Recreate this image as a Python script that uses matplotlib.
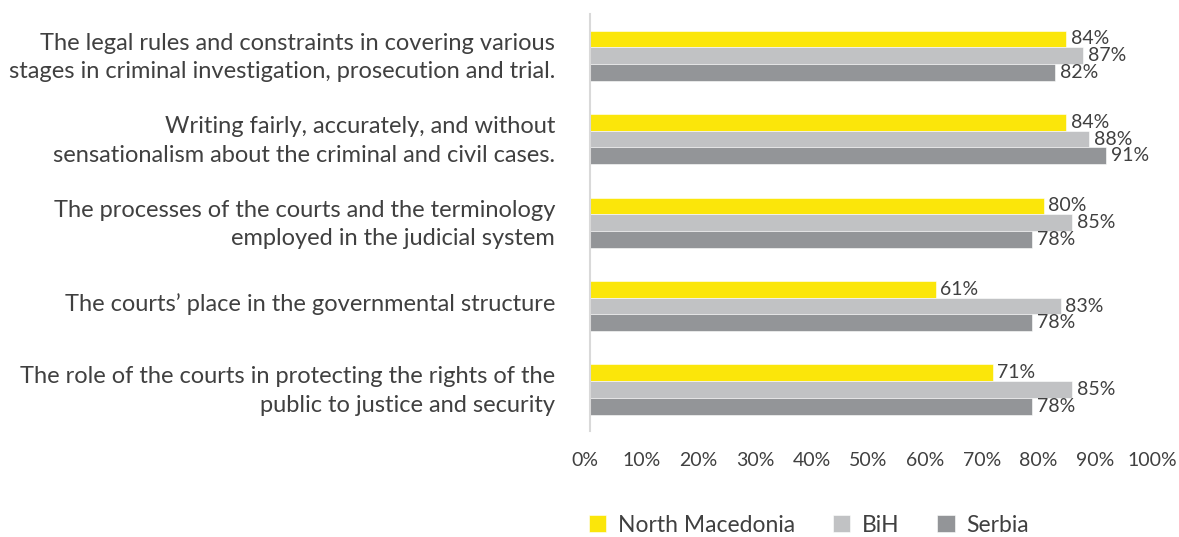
import numpy as np
import matplotlib.pyplot as plt
import matplotlib.transforms as mtransforms

plt.rcParams['font.family'] = ['Lato', 'DejaVu Sans']

categorias = [
    'The legal rules and constraints in covering various\nstages in criminal investigation, prosecution and trial.',
    'Writing fairly, accurately, and without\nsensationalism about the criminal and civil cases.',
    'The processes of the courts and the terminology\nemployed in the judicial system',
    'The courts\u2019 place in the governmental structure',
    'The role of the courts in protecting the rights of the\npublic to justice and security',
]
macedonia = [84, 84, 80, 61, 71]
bih = [87, 88, 85, 83, 85]
serbia = [82, 91, 78, 78, 78]
series = ['North Macedonia', 'BiH', 'Serbia']
cores = ['#FBE60A', '#C1C2C4', '#939598']

fig = plt.figure(figsize=(11.79, 5.37), dpi=100)
ax = fig.add_axes([0.5004, 0.197, 0.481, 0.777])

y = np.arange(len(categorias))
h = 0.2
for i, (nome, valores, cor) in enumerate(zip(series, [macedonia, bih, serbia], cores)):
    pos = y + (i - 1) * h
    ax.barh(pos, valores, height=h, color=cor, label=nome,
            edgecolor='white', linewidth=0.4)
    for p, v in zip(pos, valores):
        ax.text(v + 0.8, p, f'{v}%', va='center', ha='left', fontsize=14, color='#404040')

ax.set_xlim(0, 100)
ax.set_ylim(len(categorias) - 0.5, -0.5)
ax.set_yticks(y)
ax.set_yticklabels(categorias, fontsize=17, color='#404040', linespacing=1.45)
ax.set_xticks(np.arange(0, 101, 10))
ax.set_xticklabels([f'{t}%' for t in range(0, 101, 10)], fontsize=14, color='#404040')
ax.tick_params(axis='both', length=0)
ax.tick_params(axis='y', pad=25)
ax.tick_params(axis='x', pad=15)
# tick labels sit a little left of their gridline in the original
shift = mtransforms.ScaledTranslation(-5 / 100, 0, fig.dpi_scale_trans)
for lbl in ax.get_xticklabels():
    lbl.set_transform(lbl.get_transform() + shift)
up = mtransforms.ScaledTranslation(0, 4 / 100, fig.dpi_scale_trans)
for lbl in ax.get_yticklabels():
    lbl.set_transform(lbl.get_transform() + up)
for s in ['top', 'right', 'bottom']:
    ax.spines[s].set_visible(False)
ax.spines['left'].set_color('#D9D9D9')
ax.spines['left'].set_linewidth(1.5)

ax.legend(loc='center', bbox_to_anchor=(0.686, 0.022), bbox_transform=fig.transFigure,
          ncol=3, frameon=False, fontsize=16.5, handlelength=0.75, handleheight=0.75,
          columnspacing=1.67, handletextpad=0.5, labelcolor='#404040')

fig.savefig('out.png', dpi=100)
